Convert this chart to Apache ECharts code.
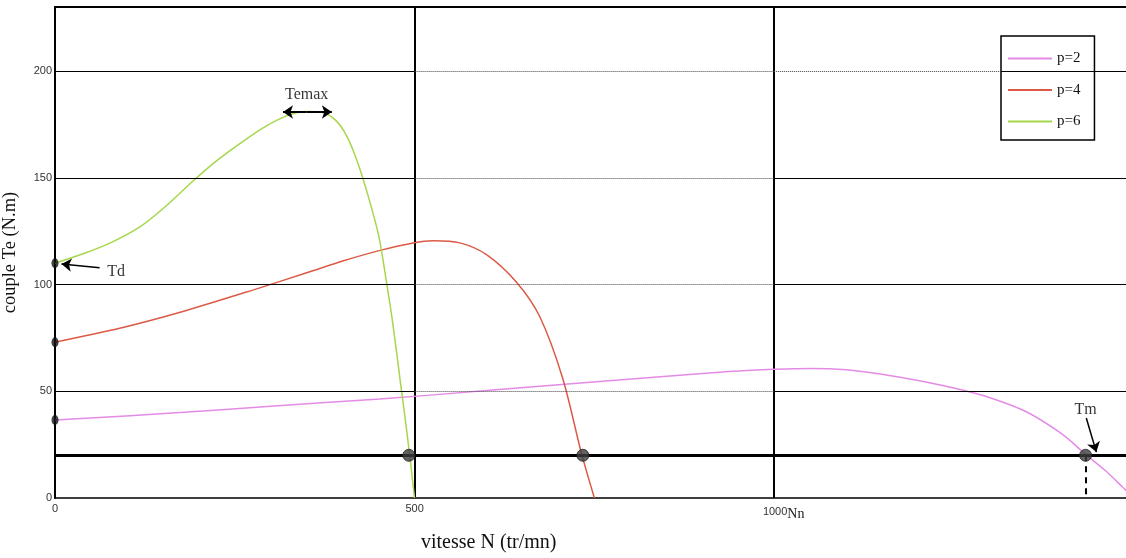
<!DOCTYPE html>
<html>
<head>
<meta charset="utf-8">
<script src="https://cdn.jsdelivr.net/npm/echarts@6/dist/echarts.min.js"></script>
<style>
  html, body { margin: 0; padding: 0; background: #fff; }
  #chart { width: 1126px; height: 558px; }
</style>
</head>
<body>
<div id="chart"></div>
<script>
// couple / vitesse
var speedP2 = [0, 174, 300, 452, 600, 757, 900, 950, 1000, 1050, 1100, 1150, 1200, 1250, 1300, 1350, 1400, 1433, 1460, 1484, 1500];
var torqueP2 = [36.5, 40, 43, 46.4, 50.3, 54.6, 58.3, 59.5, 60.3, 60.7, 60.1, 58, 55, 51.5, 47, 40.5, 30, 20.5, 13, 5.3, 0];

var speedP4 = [0, 90, 174, 276, 350, 400, 452, 498, 526, 563, 600, 642, 674, 706, 732, 750];
var torqueP4 = [73, 79.5, 87, 97.5, 105.5, 111, 116, 119.5, 120.5, 119.5, 114, 101, 85, 56, 21, 0];

var speedP6 = [0, 40, 80, 118, 150, 192, 225, 257, 290, 322, 350, 373, 390, 405, 420, 435, 450, 461, 470, 480, 490, 500];
var torqueP6 = [110, 114.5, 120, 127, 135.5, 148.5, 158, 166, 173.5, 179, 181, 180.5, 177, 170, 158, 142, 123, 101, 81, 55, 29, 0];

var loadTorque = 20;
var opSpeeds = [492, 734, 1433];      // points de fonctionnement
var startTorques = [110, 73, 36.5];   // couples de demarrage
var yTicks = [50, 100, 150, 200];

var colors = ['#e48be6', '#dc5a45', '#a6d74b'];

function pairs(xs, ys) {
    return xs.map(function (x, i) { return [x, ys[i]]; });
}

// horizontal grid: solid outside 500..1000, dotted inside
var solidGrid = [], dottedGrid = [];
yTicks.forEach(function (v) {
    solidGrid.push([{ coord: [0, v] }, { coord: [500, v] }]);
    dottedGrid.push([{ coord: [500, v] }, { coord: [1000, v] }]);
    if (v === 200) {
        dottedGrid.push([{ coord: [1000, v] }, { coord: [1315, v] }]);
        solidGrid.push([{ coord: [1315, v] }, { coord: [1492, v] }]);
    } else {
        solidGrid.push([{ coord: [1000, v] }, { coord: [1492, v] }]);
    }
});

var serif = '"Liberation Serif", "Times New Roman", serif';
var sans = '"Liberation Sans", Arial, sans-serif';

var curveStyle = { type: 'line', smooth: 0.3, showSymbol: false, z: 3 };

var chart = echarts.init(document.getElementById('chart'));
var option = {
    animation: false,
    backgroundColor: '#fff',
    color: colors,
    grid: { left: 55, right: -2, top: 7, bottom: 60, show: false, containLabel: false, outerBoundsMode: 'none' },
    legend: {
        data: ['p=2', 'p=4', 'p=6'],
        orient: 'vertical',
        left: 1001,
        top: 36,
        padding: [15, 14, 11, 7],
        itemGap: 16.5,
        itemWidth: 44,
        itemHeight: 2,
        icon: 'rect',
        backgroundColor: '#fff',
        borderColor: '#000',
        borderWidth: 1.5,
        borderRadius: 0,
        textStyle: { fontFamily: serif, fontSize: 15, color: '#111' }
    },
    xAxis: [{
        type: 'value',
        min: 0,
        max: 1492,
        interval: 500,
        axisLine: { show: true, onZero: false, lineStyle: { color: '#000', width: 1.5 } },
        axisTick: { show: false },
        splitLine: { show: true, showMinLine: false, showMaxLine: false, lineStyle: { color: '#000', width: 2 } },
        axisLabel: {
            margin: 5,
            color: '#333',
            fontFamily: sans,
            fontSize: 11,
            showMaxLabel: false,
            formatter: function (v) {
                if (v === 1000) return '{pad|}{n|1000}{s|Nn}';
                return v % 500 === 0 ? String(v) : '';
            },
            rich: {
                pad: { width: 19 },
                n: { fontFamily: sans, fontSize: 11, color: '#333' },
                s: { fontFamily: serif, fontSize: 14, color: '#222', padding: [4, 0, 0, 0] }
            }
        }
    }, {
        // cadre du haut
        type: 'value',
        position: 'top',
        min: 0,
        max: 1492,
        interval: 500,
        axisLine: { show: true, onZero: false, lineStyle: { color: '#000', width: 2 } },
        axisTick: { show: false },
        axisLabel: { show: false },
        splitLine: { show: false }
    }],
    yAxis: {
        type: 'value',
        min: 0,
        max: 230,
        interval: 50,
        name: 'couple Te (N.m)',
        nameLocation: 'middle',
        nameGap: 35,
        nameTextStyle: { fontFamily: serif, fontSize: 18.5, color: '#111' },
        axisLine: { show: true, lineStyle: { color: '#000', width: 2 } },
        axisTick: { show: false },
        splitLine: { show: false },
        axisLabel: {
            margin: 3,
            color: '#333',
            fontFamily: sans,
            fontSize: 11,
            showMaxLabel: false,
            formatter: function (v) { return (v % 50 === 0 && v <= 200) ? String(v) : ''; }
        }
    },
    graphic: [
        {
            type: 'text',
            left: 421,
            top: 533,
            style: { text: 'vitesse N (tr/mn)', fontFamily: serif, fontSize: 20, fill: '#111' }
        }
    ],
    series: [
        {
            name: 'grid-solid', type: 'line', data: [], silent: true, z: 1,
            markLine: { symbol: 'none', silent: true, animation: false, label: { show: false },
                lineStyle: { color: '#000', width: 1, type: 'solid' }, data: solidGrid }
        },
        {
            name: 'grid-dotted', type: 'line', data: [], silent: true, z: 1,
            markLine: { symbol: 'none', silent: true, animation: false, label: { show: false },
                lineStyle: { color: '#444', width: 1, type: [1, 1] }, data: dottedGrid }
        },
        {
            name: 'charge', type: 'line', data: [], silent: true, z: 2,
            markLine: { symbol: 'none', silent: true, animation: false, label: { show: false },
                lineStyle: { color: '#000', width: 3, type: 'solid' },
                data: [{ yAxis: loadTorque }] }
        },
        Object.assign({}, curveStyle, {
            name: 'p=2', data: pairs(speedP2, torqueP2),
            lineStyle: { width: 1.5, color: colors[0] }, itemStyle: { color: colors[0] }
        }),
        Object.assign({}, curveStyle, {
            name: 'p=4', data: pairs(speedP4, torqueP4),
            lineStyle: { width: 1.5, color: colors[1] }, itemStyle: { color: colors[1] }
        }),
        Object.assign({}, curveStyle, {
            name: 'p=6', data: pairs(speedP6, torqueP6),
            lineStyle: { width: 1.5, color: colors[2] }, itemStyle: { color: colors[2] }
        }),
        {
            name: 'fonctionnement', type: 'scatter', z: 5, silent: true,
            data: opSpeeds.map(function (n) { return [n, loadTorque]; }),
            symbolSize: 12,
            itemStyle: { color: '#3c3c3c', borderColor: '#222', borderWidth: 1 }
        },
        {
            name: 'demarrage', type: 'scatter', z: 5, silent: true,
            data: startTorques.map(function (t) { return [0, t]; }),
            symbolSize: [7, 10],
            itemStyle: { color: '#111' }
        },
        {
            name: 'annotations', type: 'line', data: [], silent: true, z: 6,
            markLine: {
                silent: true, animation: false, label: { show: false },
                symbolSize: 10,
                lineStyle: { color: '#000', width: 1.5, type: 'solid' },
                data: [
                    [{ coord: [62, 107.8], symbol: 'none' }, { coord: [9, 109.6], symbol: 'arrow' }],
                    [{ coord: [350, 180.8], symbol: 'none', lineStyle: { width: 2 } }, { coord: [317, 180.8], symbol: 'arrow' }],
                    [{ coord: [350, 180.8], symbol: 'none', lineStyle: { width: 2 } }, { coord: [385, 180.8], symbol: 'arrow' }],
                    [{ coord: [1434, 37.5], symbol: 'none' }, { coord: [1448, 21.5], symbol: 'arrow' }],
                    [{ coord: [opSpeeds[2], loadTorque], symbol: 'none', lineStyle: { type: [6, 5], width: 2 } },
                     { coord: [opSpeeds[2], 0], symbol: 'none' }]
                ]
            }
        },
        {
            name: 'textes', type: 'scatter', z: 7, silent: true, symbolSize: 0,
            data: [
                { value: [85, 106], label: { formatter: 'Td' } },
                { value: [350, 188.8], label: { formatter: 'Temax' } },
                { value: [1433, 41.2], label: { formatter: 'Tm' } }
            ],
            label: { show: true, position: 'inside', fontFamily: serif, fontSize: 16, color: '#000' }
        }
    ]
};
chart.setOption(option);
</script>
</body>
</html>
